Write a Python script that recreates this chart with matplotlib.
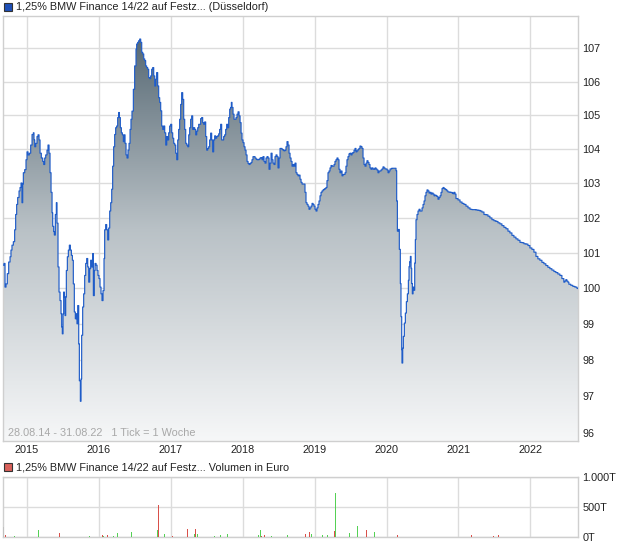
import matplotlib

matplotlib.use("Agg")
import matplotlib.pyplot as plt
import numpy as np
from matplotlib.colors import LinearSegmentedColormap
from matplotlib.patches import Rectangle
from matplotlib.ticker import FixedLocator, NullLocator

plt.rcParams["font.family"] = ["Liberation Sans", "DejaVu Sans"]

TITLE = "1,25% BMW Finance 14/22 auf Festz... (Düsseldorf)"
VOL_TITLE = "1,25% BMW Finance 14/22 auf Festz... Volumen in Euro"
RANGE_NOTE = "28.08.14 - 31.08.22   1 Tick = 1 Woche"

# price series (decimal year, price)
price_years = [
    2014.662, 2014.680, 2014.694, 2014.708, 2014.726, 2014.745, 2014.764, 2014.777, 2014.791, 2014.810,
    2014.828, 2014.842, 2014.856, 2014.870, 2014.889, 2014.903, 2014.917, 2014.930, 2014.940, 2014.949,
    2014.968, 2014.986, 2015.000, 2015.014, 2015.032, 2015.051, 2015.070, 2015.088, 2015.097, 2015.107,
    2015.121, 2015.139, 2015.153, 2015.167, 2015.181, 2015.199, 2015.218, 2015.232, 2015.246, 2015.260,
    2015.278, 2015.292, 2015.306, 2015.320, 2015.334, 2015.348, 2015.357, 2015.371, 2015.380, 2015.394,
    2015.408, 2015.417, 2015.431, 2015.445, 2015.459, 2015.473, 2015.482, 2015.491, 2015.501, 2015.510,
    2015.519, 2015.529, 2015.538, 2015.547, 2015.561, 2015.575, 2015.589, 2015.603, 2015.617, 2015.631,
    2015.644, 2015.658, 2015.672, 2015.686, 2015.695, 2015.705, 2015.719, 2015.728, 2015.742, 2015.751,
    2015.760, 2015.774, 2015.788, 2015.802, 2015.816, 2015.830, 2015.844, 2015.858, 2015.872, 2015.885,
    2015.899, 2015.913, 2015.923, 2015.936, 2015.946, 2015.960, 2015.974, 2015.987, 2016.001, 2016.015,
    2016.029, 2016.043, 2016.057, 2016.071, 2016.080, 2016.094, 2016.108, 2016.122, 2016.136, 2016.150,
    2016.164, 2016.178, 2016.191, 2016.205, 2016.219, 2016.233, 2016.247, 2016.261, 2016.275, 2016.284,
    2016.298, 2016.312, 2016.326, 2016.340, 2016.354, 2016.363, 2016.377, 2016.391, 2016.405, 2016.419,
    2016.433, 2016.446, 2016.460, 2016.479, 2016.497, 2016.516, 2016.525, 2016.539, 2016.553, 2016.567,
    2016.581, 2016.595, 2016.609, 2016.623, 2016.637, 2016.650, 2016.664, 2016.678, 2016.692, 2016.706,
    2016.720, 2016.734, 2016.748, 2016.762, 2016.776, 2016.790, 2016.803, 2016.817, 2016.831, 2016.845,
    2016.859, 2016.873, 2016.887, 2016.901, 2016.915, 2016.929, 2016.943, 2016.956, 2016.970, 2016.984,
    2016.998, 2017.012, 2017.026, 2017.040, 2017.054, 2017.068, 2017.082, 2017.096, 2017.109, 2017.123,
    2017.137, 2017.151, 2017.165, 2017.179, 2017.193, 2017.207, 2017.221, 2017.235, 2017.249, 2017.262,
    2017.276, 2017.290, 2017.304, 2017.318, 2017.332, 2017.346, 2017.360, 2017.374, 2017.388, 2017.415,
    2017.429, 2017.443, 2017.457, 2017.471, 2017.485, 2017.499, 2017.513, 2017.527, 2017.540, 2017.554,
    2017.568, 2017.582, 2017.596, 2017.610, 2017.624, 2017.638, 2017.652, 2017.666, 2017.679, 2017.693,
    2017.707, 2017.721, 2017.735, 2017.749, 2017.763, 2017.777, 2017.791, 2017.805, 2017.819, 2017.832,
    2017.842, 2017.851, 2017.865, 2017.879, 2017.893, 2017.907, 2017.921, 2017.935, 2017.949, 2017.963,
    2017.977, 2017.990, 2018.004, 2018.018, 2018.032, 2018.046, 2018.060, 2018.074, 2018.088, 2018.102,
    2018.116, 2018.129, 2018.143, 2018.157, 2018.171, 2018.185, 2018.199, 2018.213, 2018.227, 2018.241,
    2018.255, 2018.269, 2018.282, 2018.296, 2018.310, 2018.324, 2018.338, 2018.352, 2018.366, 2018.380,
    2018.394, 2018.408, 2018.421, 2018.435, 2018.449, 2018.463, 2018.477, 2018.491, 2018.505, 2018.519,
    2018.533, 2018.547, 2018.561, 2018.574, 2018.588, 2018.602, 2018.616, 2018.630, 2018.644, 2018.658,
    2018.672, 2018.686, 2018.700, 2018.713, 2018.727, 2018.741, 2018.755, 2018.769, 2018.783, 2018.797,
    2018.811, 2018.825, 2018.852, 2018.866, 2018.880, 2018.894, 2018.908, 2018.922, 2018.936, 2018.950,
    2018.964, 2018.978, 2018.991, 2019.005, 2019.019, 2019.033, 2019.047, 2019.061, 2019.075, 2019.089,
    2019.103, 2019.117, 2019.131, 2019.144, 2019.158, 2019.172, 2019.186, 2019.200, 2019.214, 2019.228,
    2019.242, 2019.256, 2019.270, 2019.283, 2019.297, 2019.311, 2019.325, 2019.339, 2019.353, 2019.367,
    2019.381, 2019.395, 2019.409, 2019.423, 2019.436, 2019.450, 2019.464, 2019.478, 2019.492, 2019.506,
    2019.520, 2019.534, 2019.548, 2019.562, 2019.575, 2019.589, 2019.603, 2019.617, 2019.631, 2019.645,
    2019.659, 2019.673, 2019.687, 2019.701, 2019.715, 2019.728, 2019.742, 2019.756, 2019.770, 2019.784,
    2019.798, 2019.812, 2019.826, 2019.840, 2019.854, 2019.867, 2019.881, 2019.895, 2019.909, 2019.923,
    2019.937, 2019.951, 2019.965, 2019.979, 2019.993, 2020.007, 2020.021, 2020.035, 2020.049, 2020.072,
    2020.095, 2020.118, 2020.132, 2020.141, 2020.151, 2020.165, 2020.178, 2020.192, 2020.201, 2020.211,
    2020.215, 2020.225, 2020.234, 2020.248, 2020.262, 2020.276, 2020.290, 2020.304, 2020.313, 2020.322,
    2020.332, 2020.341, 2020.350, 2020.359, 2020.369, 2020.378, 2020.392, 2020.401, 2020.410, 2020.424,
    2020.438, 2020.452, 2020.466, 2020.480, 2020.494, 2020.508, 2020.522, 2020.535, 2020.549, 2020.563,
    2020.577, 2020.591, 2020.605, 2020.619, 2020.633, 2020.647, 2020.661, 2020.674, 2020.688, 2020.702,
    2020.716, 2020.730, 2020.744, 2020.758, 2020.772, 2020.786, 2020.800, 2020.813, 2020.827, 2020.841,
    2020.855, 2020.883, 2020.911, 2020.925, 2020.938, 2020.952, 2020.966, 2020.994, 2021.022, 2021.050,
    2021.077, 2021.105, 2021.133, 2021.161, 2021.188, 2021.216, 2021.244, 2021.272, 2021.300, 2021.327,
    2021.355, 2021.383, 2021.411, 2021.438, 2021.466, 2021.494, 2021.522, 2021.550, 2021.577, 2021.605,
    2021.633, 2021.661, 2021.689, 2021.716, 2021.744, 2021.772, 2021.800, 2021.828, 2021.856, 2021.883,
    2021.911, 2021.939, 2021.967, 2021.994, 2022.022, 2022.050, 2022.078, 2022.105, 2022.133, 2022.161,
    2022.189, 2022.216, 2022.244, 2022.272, 2022.300, 2022.328, 2022.355, 2022.383, 2022.411, 2022.439,
    2022.466, 2022.480, 2022.494, 2022.508, 2022.522, 2022.536, 2022.563, 2022.591, 2022.619, 2022.647,
    2022.663,
]
prices = [
    100.65, 100.70, 100.03, 100.12, 100.41, 100.74, 100.89, 101.08, 101.22, 101.32,
    101.66, 102.10, 102.39, 102.59, 102.78, 102.88, 103.01, 102.44, 102.98, 103.31,
    103.40, 103.69, 103.92, 103.83, 103.88, 104.12, 104.43, 104.48, 104.27, 104.07,
    104.17, 104.37, 104.42, 104.27, 103.88, 103.74, 103.64, 103.55, 103.74, 103.83,
    103.97, 104.12, 103.88, 103.31, 102.74, 102.15, 101.76, 101.61, 101.51, 102.10,
    102.44, 101.85, 100.60, 99.89, 99.65, 99.28, 98.91, 98.72, 99.28, 99.89,
    99.75, 99.23, 99.75, 100.50, 100.89, 101.08, 101.22, 101.08, 100.93, 100.79,
    100.12, 99.33, 99.14, 99.28, 99.00, 99.51, 98.44, 97.42, 96.86, 97.47,
    98.68, 99.47, 99.84, 100.36, 100.70, 100.84, 100.60, 100.17, 100.55, 100.79,
    100.60, 100.98, 99.79, 100.50, 100.70, 100.65, 100.50, 100.36, 100.27, 100.03,
    99.84, 99.65, 99.93, 100.84, 101.66, 101.81, 101.66, 101.37, 101.71, 102.20,
    102.44, 102.83, 103.50, 104.07, 104.43, 104.63, 104.68, 104.93, 105.08, 104.93,
    104.63, 104.48, 104.42, 104.22, 104.42, 104.17, 103.83, 103.74, 103.97, 104.17,
    104.58, 104.88, 105.12, 105.77, 106.47, 106.98, 107.13, 107.18, 107.23, 107.28,
    107.18, 106.88, 106.83, 106.68, 106.63, 106.47, 106.42, 106.37, 106.12, 106.09,
    106.17, 106.37, 106.42, 106.17, 105.87, 106.07, 106.27, 105.87, 105.52, 105.38,
    105.13, 104.68, 104.58, 104.68, 104.48, 104.12, 104.37, 104.27, 104.48, 104.68,
    104.73, 104.48, 104.32, 104.17, 104.12, 103.88, 103.69, 104.27, 104.58, 104.88,
    105.32, 105.67, 105.47, 104.88, 104.58, 104.17, 104.12, 104.07, 104.42, 104.63,
    104.88, 104.98, 104.58, 104.63, 104.58, 104.42, 104.53, 104.63, 104.73, 104.90,
    104.93, 104.78, 104.73, 104.80, 104.37, 103.97, 104.02, 104.07, 104.27, 104.47,
    104.27, 103.92, 104.27, 104.39, 104.32, 104.37, 104.39, 104.45, 104.58, 104.73,
    104.27, 104.27, 104.37, 104.42, 104.58, 104.73, 104.63, 104.93, 105.18, 105.23,
    105.38, 105.23, 105.03, 104.88, 104.88, 104.93, 105.03, 105.10, 104.98, 104.78,
    104.47, 104.27, 104.19, 104.07, 103.97, 103.83, 103.64, 103.58, 103.55, 103.58,
    103.61, 103.69, 103.78, 103.78, 103.74, 103.71, 103.69, 103.69, 103.71, 103.74,
    103.75, 103.69, 103.78, 103.64, 103.59, 103.74, 103.78, 103.74, 103.41, 103.59,
    103.88, 103.69, 103.59, 103.55, 103.78, 103.83, 103.78, 103.45, 103.74, 104.02,
    104.02, 103.99, 103.97, 103.95, 103.97, 104.07, 104.22, 104.12, 103.88, 103.74,
    103.64, 103.50, 103.55, 103.50, 103.59, 103.31, 103.26, 103.22, 103.24, 103.12,
    103.03, 102.98, 102.98, 102.74, 102.44, 102.39, 102.34, 102.25, 102.29, 102.34,
    102.42, 102.39, 102.34, 102.25, 102.20, 102.29, 102.39, 102.49, 102.64, 102.74,
    102.78, 102.81, 102.83, 102.85, 102.88, 103.08, 103.31, 103.36, 103.45, 103.52,
    103.50, 103.50, 103.55, 103.64, 103.69, 103.74, 103.69, 103.41, 103.31, 103.36,
    103.22, 103.26, 103.26, 103.31, 103.50, 103.69, 103.78, 103.86, 103.88, 103.83,
    103.88, 103.90, 103.97, 104.02, 103.92, 103.95, 103.99, 104.02, 104.09, 104.07,
    104.02, 103.74, 103.55, 103.50, 103.59, 103.66, 103.61, 103.55, 103.45, 103.41,
    103.45, 103.42, 103.41, 103.45, 103.42, 103.39, 103.31, 103.36, 103.36, 103.39,
    103.42, 103.48, 103.45, 103.42, 103.42, 103.39, 103.31, 103.36, 103.42, 103.44,
    103.44, 103.44, 103.37, 102.49, 101.62, 101.67, 101.10, 100.13, 99.20, 98.28,
    97.91, 98.32, 98.65, 99.02, 99.30, 99.62, 99.84, 100.22, 100.61, 100.75,
    100.90, 100.56, 100.13, 99.84, 100.03, 99.94, 100.71, 101.38, 101.95, 102.10,
    102.20, 102.25, 102.20, 102.20, 102.29, 102.39, 102.49, 102.64, 102.74, 102.81,
    102.78, 102.72, 102.74, 102.69, 102.72, 102.69, 102.64, 102.66, 102.64, 102.62,
    102.54, 102.59, 102.64, 102.74, 102.85, 102.88, 102.85, 102.83, 102.81, 102.78,
    102.75, 102.74, 102.72, 102.70, 102.74, 102.69, 102.56, 102.52, 102.46, 102.42,
    102.39, 102.34, 102.29, 102.25, 102.24, 102.24, 102.23, 102.22, 102.20, 102.17,
    102.10, 102.09, 102.05, 102.00, 101.95, 101.92, 101.90, 101.86, 101.83, 101.78,
    101.73, 101.69, 101.62, 101.57, 101.50, 101.45, 101.40, 101.36, 101.30, 101.29,
    101.26, 101.25, 101.21, 101.14, 101.10, 101.02, 100.90, 100.83, 100.79, 100.73,
    100.69, 100.64, 100.59, 100.55, 100.51, 100.47, 100.44, 100.40, 100.36, 100.27,
    100.17, 100.20, 100.24, 100.20, 100.17, 100.11, 100.08, 100.05, 100.03, 100.00,
    99.99,
]

# turnover bars (decimal year, thousand euro, direction)
vol_years = [
    2014.670, 2014.694, 2014.823, 2015.158, 2015.450, 2015.867, 2016.048, 2016.066, 2016.117, 2016.200,
    2016.256, 2016.456, 2016.813, 2016.826, 2016.910, 2017.021, 2017.230, 2017.327, 2017.341, 2017.369,
    2017.605, 2017.689, 2017.786, 2018.217, 2018.245, 2018.264, 2018.301, 2018.403, 2018.620, 2018.876,
    2018.926, 2018.959, 2019.107, 2019.177, 2019.274, 2019.293, 2019.483, 2019.599, 2019.725, 2019.831,
    2020.150, 2021.180, 2021.486, 2021.560,
]
vol_values = [
    170, 28, 11, 111, 61, 22, 28, 11, 28, 22,
    61, 78, 111, 528, 44, 22, 128, 44, 128, 44,
    11, 28, 44, 28, 111, 11, 28, 11, 28, 44,
    78, 56, 28, 28, 94, 733, 61, 178, 117, 78,
    28, 28, 11, 28,
]
vol_dir = [
    "flat", "down", "up", "up", "down", "up", "down", "up", "down", "up",
    "up", "up", "up", "down", "up", "down", "down", "up", "down", "up",
    "up", "up", "up", "up", "up", "down", "down", "up", "up", "down",
    "down", "up", "up", "up", "down", "up", "up", "up", "down", "up",
    "down", "down", "down", "down",
]

year_ticks = [2015, 2016, 2017, 2018, 2019, 2020, 2021, 2022]
price_ticks = [96, 97, 98, 99, 100, 101, 102, 103, 104, 105, 106, 107]
vol_ticks = [0, 500, 1000]
vol_tick_labels = ["0T", "500T", "1.000T"]

GRID = "#dcdcdc"
FRAME = "#cfcfcf"
LINE = "#1f5cc8"
DIR_COLORS = {"up": "#55d155", "down": "#d9504a", "flat": "#c0c0c0"}
FS = 7.8

W, H = 620, 546
fig = plt.figure(figsize=(W / 100, H / 100), dpi=100)


def px_axes(left, top, right, bottom):
    return fig.add_axes([left / W, 1 - bottom / H, (right - left) / W, (bottom - top) / H])


def style_frame(ax):
    for sp in ax.spines.values():
        sp.set_color(FRAME)
        sp.set_linewidth(1.0)
    ax.grid(True, color=GRID, linewidth=1.0)
    ax.set_axisbelow(True)
    ax.yaxis.tick_right()
    ax.tick_params(length=0, labelsize=FS, colors="#222222", pad=3)


x_min, x_max = 2014.666, 2022.663

# main price chart
ax = px_axes(3, 16, 578, 441)
ax.set_yscale("log")
ax.set_xlim(x_min, x_max)
ax.set_ylim(95.78, 107.98)
style_frame(ax)
ax.yaxis.set_major_locator(FixedLocator(price_ticks))
ax.yaxis.set_minor_locator(NullLocator())
ax.set_yticklabels([str(t) for t in price_ticks])
ax.xaxis.set_major_locator(FixedLocator(year_ticks))
ax.set_xticklabels([str(t) for t in year_ticks])
ax.tick_params(axis="x", pad=3)

px = np.array(price_years)
py = np.array(prices)
fill = ax.fill_between(px, py, 95.0, step="post", facecolor="none", edgecolor="none")
cmap = LinearSegmentedColormap.from_list("shade", ["#f6f7f8", "#b9c1c6", "#4c5f6b"])
grad = np.linspace(0, 1, 256).reshape(-1, 1)
im = ax.imshow(grad, cmap=cmap, aspect="auto", origin="lower",
               extent=[0, 1, 0, 1], transform=ax.transAxes, zorder=1)
im.set_clip_path(fill.get_paths()[0], transform=ax.transData)
ax.step(px, py, where="post", color=LINE, linewidth=0.85, zorder=3)

ax.text(0.009, 0.008, RANGE_NOTE, transform=ax.transAxes, fontsize=FS,
        color="#a8a8a8", ha="left", va="bottom", zorder=4)

# volume panel
axv = px_axes(3, 477, 578, 537)
axv.set_xlim(x_min, x_max)
axv.set_ylim(0, 1000)
style_frame(axv)
axv.yaxis.set_major_locator(FixedLocator(vol_ticks))
axv.set_yticklabels(vol_tick_labels)
axv.xaxis.set_major_locator(FixedLocator(year_ticks))
axv.set_xticklabels([])
axv.bar(vol_years, vol_values, width=0.0139, color=[DIR_COLORS[d] for d in vol_dir],
        linewidth=0, antialiased=False, zorder=3)

# legend headers
for (sq_y, text_y, face, label) in [(3, 7, "#1e50b8", TITLE), (463, 467, "#d9605a", VOL_TITLE)]:
    fig.add_artist(Rectangle((4 / W, 1 - (sq_y + 8) / H), 8 / W, 8 / H,
                             transform=fig.transFigure, facecolor=face,
                             edgecolor="#333333", linewidth=0.8))
    fig.text(16 / W, 1 - text_y / H, label, fontsize=FS, color="#222222",
             ha="left", va="center")

fig.savefig("out.png", dpi=100)
